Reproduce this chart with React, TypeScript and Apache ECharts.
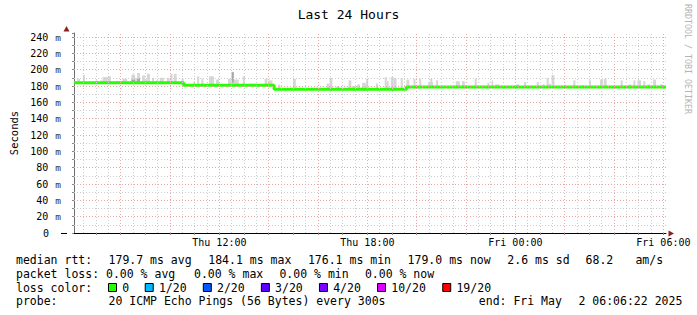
import { useEffect, useRef } from "react";
import * as echarts from "echarts";

const MONO = "DejaVu Sans Mono";
const TITLE = "Last 24 Hours";
const Y_NAME = "Seconds";
const WATERMARK = "RRDTOOL / TOBI OETIKER";

// x values are minutes since Thu 06:00
const X_MIN = 6.37; // Thu 06:06:22
const X_MAX = 1446.37; // Fri 06:06:22
const X_LABEL_VALUES = [360, 720, 1080, 1440];
const X_LABEL_TEXTS = ["Thu 12:00", "Thu 18:00", "Fri 00:00", "Fri 06:00"];
const Y_MAX = 245;

// median rtt (ms), step segments: [start minute, value]
const MEDIAN_STEPS: [number, number][] = [
  [6.37, 184.1],
  [273, 181.0],
  [493, 176.1],
  [815, 179.0],
  [1446.37, 179.0],
];

// smoke: [start minute, end minute, low ms, high ms]
const SMOKE: [number, number, number, number][] = [
  [8, 14, 182.5, 186],
  [14, 21, 182.5, 189],
  [28, 33, 182.5, 193.5],
  [40, 46, 182.5, 185],
  [59, 64, 182.5, 187],
  [70, 76, 182.5, 187],
  [76, 88, 182.5, 191],
  [88, 96, 182.5, 192],
  [110, 118, 182.5, 186],
  [124, 136, 182.5, 189],
  [146, 155, 182.5, 194],
  [155, 160, 182.5, 190],
  [160, 167, 182.5, 196],
  [172, 179, 182.5, 193],
  [179, 184, 182.5, 188],
  [184, 191, 182.5, 195],
  [196, 201, 182.5, 190],
  [205, 212, 182.5, 187],
  [215, 225, 182.5, 190],
  [232, 239, 182.5, 190],
  [241, 246, 182.5, 195],
  [249, 256, 182.5, 195],
  [268, 273, 179.5, 189],
  [297, 301, 179.5, 186],
  [306, 311, 179.5, 192],
  [316, 321, 179.5, 189],
  [335, 347, 179.5, 192],
  [352, 359, 179.5, 188],
  [381, 388, 179.5, 189],
  [390, 395, 179.5, 197.5],
  [395, 407, 179.5, 188],
  [417, 422, 179.5, 192.5],
  [436, 441, 179.5, 183],
  [470, 477, 179.5, 189],
  [479, 489, 179.5, 187],
  [503, 508, 174.5, 182],
  [539, 546, 174.5, 189],
  [621, 628, 174.5, 183],
  [628, 635, 174.5, 190],
  [645, 652, 174.5, 180],
  [674, 681, 174.5, 187],
  [683, 693, 174.5, 180],
  [695, 702, 174.5, 182],
  [707, 717, 174.5, 184],
  [717, 722, 174.5, 189],
  [741, 746, 174.5, 183],
  [762, 767, 174.5, 191],
  [767, 772, 174.5, 186],
  [777, 784, 174.5, 191],
  [784, 791, 174.5, 190],
  [801, 806, 174.5, 190],
  [815, 822, 177.5, 188],
  [832, 837, 177.5, 189],
  [846, 851, 177.5, 189],
  [868, 880, 177.5, 185],
  [873, 878, 177.5, 189],
  [887, 892, 177.5, 187],
  [935, 945, 177.5, 186],
  [950, 957, 177.5, 186],
  [981, 986, 177.5, 189],
  [1012, 1017, 177.5, 184],
  [1022, 1026, 177.5, 187],
  [1031, 1041, 177.5, 182],
  [1082, 1089, 177.5, 182],
  [1101, 1106, 177.5, 185],
  [1132, 1137, 177.5, 185],
  [1146, 1151, 177.5, 182],
  [1156, 1161, 177.5, 190],
  [1161, 1166, 177.5, 183],
  [1168, 1175, 177.5, 193.5],
  [1199, 1204, 177.5, 181],
  [1221, 1226, 177.5, 187],
  [1240, 1247, 177.5, 181],
  [1259, 1264, 177.5, 187],
  [1286, 1293, 177.5, 188],
  [1295, 1302, 177.5, 189],
  [1336, 1341, 177.5, 187],
  [1355, 1362, 177.5, 182],
  [1367, 1372, 177.5, 187],
  [1377, 1386, 177.5, 187],
  [1391, 1396, 177.5, 186],
  [1401, 1408, 177.5, 182],
  [1415, 1422, 177.5, 188],
  [1432, 1439, 177.5, 182],
];
// darker smoke core
const SMOKE_DARK: [number, number, number, number][] = [
  [390, 395, 184, 197],
  [160, 167, 183, 189],
  [146, 155, 183, 188],
];

const LEGEND_LINES = [
  "median rtt:  179.7 ms avg  184.1 ms max  176.1 ms min  179.0 ms now  2.6 ms sd  68.2   am/s",
  "packet loss: 0.00 % avg  0.00 % max  0.00 % min  0.00 % now",
  "probe:       20 ICMP Echo Pings (56 Bytes) every 300s",
];
const LEGEND_END = "end: Fri May  2 06:06:22 2025";
const LOSS_TITLE = "loss color:";
const LOSS_LABELS = ["0", "1/20", "2/20", "3/20", "4/20", "10/20", "19/20"];
const LOSS_COLORS = ["#26ff00", "#00b8ff", "#0059ff", "#5e00ff", "#7e00ff", "#dd00ff", "#ff0000"];

const GRID_LEFT = 66;
const GRID_TOP = 33;
const GRID_W = 600;
const GRID_H = 200;
const LFS = 11.5; // legend font size
const CW = 7.12; // legend column width
const TEXT_X = 16;
const AFS = 10; // axis font size
const MAJOR_GRID = "#e9a9a9";
const MINOR_GRID = "#cdcdcd";

function tokens(line: string): [number, string][] {
  const out: [number, string][] = [];
  const re = /\S+(?: \S+)*/g;
  let m: RegExpExecArray | null;
  while ((m = re.exec(line))) out.push([m.index, m[0]]);
  return out;
}

export default function App() {
  const ref = useRef<HTMLDivElement>(null);
  useEffect(() => {
    if (!ref.current) return;
    const chart = echarts.init(ref.current, null, { renderer: "svg" });

    const gridLines: any[] = [];
    for (let t = 30; t < X_MAX; t += 30) {
      if (t <= X_MIN) continue;
      const major = t % 120 === 0;
      gridLines.push({
        xAxis: t,
        lineStyle: { color: major ? MAJOR_GRID : MINOR_GRID, type: [1, 2], width: 1 },
      });
    }
    for (let v = 10; v <= 240; v += 10) {
      const major = v % 20 === 0;
      gridLines.push({
        yAxis: v,
        lineStyle: { color: major ? MAJOR_GRID : MINOR_GRID, type: [1, 2], width: 1 },
      });
    }

    const txtStyle = (text: string) => ({
      text,
      fontFamily: MONO,
      fontSize: LFS,
      fill: "#000",
      verticalAlign: "middle",
    });
    const graphics: any[] = [];
    const lineYs = [259.5, 273.7, 301.3];
    LEGEND_LINES.forEach((line, i) => {
      tokens(line).forEach(([col, txt]) => {
        graphics.push({ type: "text", x: TEXT_X + col * CW, y: lineYs[i], style: txtStyle(txt) });
      });
    });
    tokens(LEGEND_END).forEach(([col, txt]) => {
      graphics.push({ type: "text", x: TEXT_X + (65 + col) * CW, y: 301.3, style: txtStyle(txt) });
    });
    graphics.push({ type: "text", x: TEXT_X, y: 287.5, style: txtStyle(LOSS_TITLE) });
    let bx = 108;
    LOSS_LABELS.forEach((lab, i) => {
      graphics.push({
        type: "rect",
        shape: { x: bx + 0.5, y: 283.5, width: 8, height: 8 },
        style: { fill: LOSS_COLORS[i], stroke: "#000", lineWidth: 1 },
      });
      graphics.push({ type: "text", x: bx + 14.2, y: 287.5, style: txtStyle(lab) });
      bx += 29.6 + lab.length * CW;
    });
    // watermark
    graphics.push({
      type: "text",
      x: 687.5,
      y: 4,
      rotation: -Math.PI / 2,
      style: { text: WATERMARK, fontFamily: MONO, fontSize: 8.3, fill: "#b4b4b4", verticalAlign: "middle", align: "left" },
    });
    // axis arrows and x-axis extension
    graphics.push({
      type: "line",
      shape: { x1: 61, y1: 233.5, x2: 67, y2: 233.5 },
      style: { stroke: "#000", lineWidth: 1 },
    });
    graphics.push({
      type: "polygon",
      shape: { points: [[63.5, 31.5], [69.5, 31.5], [66.5, 26]] },
      style: { fill: "#8e1f1f" },
    });
    graphics.push({
      type: "polygon",
      shape: { points: [[668.5, 230.5], [668.5, 236.5], [674, 233.5]] },
      style: { fill: "#8e1f1f" },
    });

    chart.setOption({
      animation: false,
      backgroundColor: "#fff",
      title: {
        text: TITLE,
        left: "center",
        top: 3,
        textStyle: { fontFamily: MONO, fontSize: 13, fontWeight: "normal", color: "#000" },
      },
      grid: { left: GRID_LEFT, top: GRID_TOP, width: GRID_W, height: GRID_H, containLabel: false },
      xAxis: {
        type: "value",
        min: X_MIN,
        max: X_MAX,
        axisLine: { show: true, lineStyle: { color: "#000", width: 1 } },
        axisTick: {
          show: true,
          customValues: Array.from({ length: 24 }, (_, i) => (i + 1) * 60).filter((v) => v > X_MIN && v < X_MAX),
          length: 2,
          lineStyle: { color: "#888" },
        },
        axisLabel: {
          show: true,
          customValues: X_LABEL_VALUES,
          formatter: (v: number) => {
            const i = X_LABEL_VALUES.indexOf(Math.round(v));
            return i >= 0 ? X_LABEL_TEXTS[i] : "";
          },
          fontFamily: MONO,
          fontSize: AFS,
          color: "#000",
          margin: 4,
        },
        splitLine: { show: false },
      },
      yAxis: {
        type: "value",
        min: 0,
        max: Y_MAX,
        interval: 10,
        name: Y_NAME,
        nameLocation: "middle",
        nameRotate: 90,
        nameGap: 55,
        nameTextStyle: { fontFamily: MONO, fontSize: 10.5, color: "#000" },
        axisLine: { show: true, lineStyle: { color: "#6e6e6e", width: 1 } },
        axisTick: { show: true, length: 2, lineStyle: { color: "#888" } },
        axisLabel: {
          margin: 13,
          color: "#000",
          formatter: (v: number) => {
            if (v === 0) return "{z|0}";
            if (v % 20 === 0 && v <= 240) return `{n|${v}}{u|m}`;
            return "";
          },
          rich: {
            n: { fontFamily: MONO, fontSize: AFS, color: "#000" },
            u: { fontFamily: MONO, fontSize: 9.5, color: "#333", padding: [0, 0, 0, 7] },
            z: { fontFamily: MONO, fontSize: AFS, color: "#000", padding: [0, 12, 0, 0] },
          },
        },
        splitLine: { show: false },
      },
      series: [
        {
          type: "line",
          data: [],
          z: 1,
          silent: true,
          markLine: {
            silent: true,
            symbol: ["none", "none"],
            label: { show: false },
            data: gridLines,
          },
        },
        {
          type: "custom",
          z: 2,
          silent: true,
          data: SMOKE,
          encode: { x: [0, 1], y: [2, 3] },
          renderItem: (_p: any, api: any) => {
            const a = api.coord([api.value(0), api.value(3)]);
            const b = api.coord([api.value(1), api.value(2)]);
            return {
              type: "rect",
              shape: { x: a[0], y: a[1], width: b[0] - a[0], height: b[1] - a[1] },
              style: { fill: "#d7d7d7" },
            };
          },
        },
        {
          type: "custom",
          z: 3,
          silent: true,
          data: SMOKE_DARK,
          encode: { x: [0, 1], y: [2, 3] },
          renderItem: (_p: any, api: any) => {
            const a = api.coord([api.value(0), api.value(3)]);
            const b = api.coord([api.value(1), api.value(2)]);
            return {
              type: "rect",
              shape: { x: a[0], y: a[1], width: b[0] - a[0], height: b[1] - a[1] },
              style: { fill: "#a8a8a8" },
            };
          },
        },
        {
          type: "line",
          z: 4,
          silent: true,
          step: "end",
          symbol: "none",
          data: MEDIAN_STEPS,
          lineStyle: { color: "#26ff00", width: 3 },
        },
      ],
      graphic: graphics,
    });
    return () => chart.dispose();
  }, []);
  return (
    <div
      ref={ref}
      style={{ position: "fixed", left: 0, top: 0, width: 697, height: 315, background: "#fff" }}
    />
  );
}
